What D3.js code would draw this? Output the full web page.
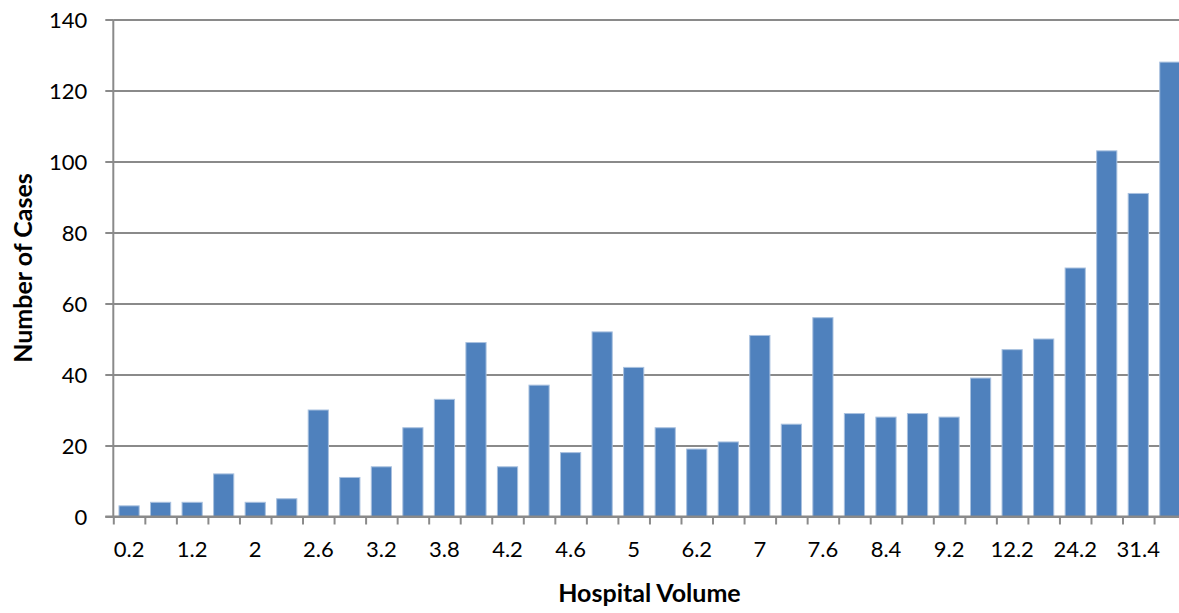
<!DOCTYPE html>
<html>
<head>
<meta charset="utf-8">
<script src="https://cdn.jsdelivr.net/npm/d3@7"></script>
<style>
  html, body { margin: 0; padding: 0; background: #fff; }
  svg { display: block; }
  .tick text { font-family: Lato, "Liberation Sans", sans-serif; fill: #000; }
</style>
</head>
<body>
<svg id="chart" width="1179" height="613"></svg>
<script>
// Number of cases per hospital-volume bin (34 bins; every other bin is labelled)
const volumeLabels = ["0.2", "1.2", "2", "2.6", "3.2", "3.8", "4.2", "4.6", "5",
                      "6.2", "7", "7.6", "8.4", "9.2", "12.2", "24.2", "31.4"];
const caseCounts = [3, 4, 4, 12, 4, 5, 30, 11, 14, 25, 33, 49, 14, 37, 18, 52, 42,
                    25, 19, 21, 51, 26, 56, 29, 28, 29, 28, 39, 47, 50, 70, 103, 91, 128];
const yTicks = [0, 20, 40, 60, 80, 100, 120, 140];

const svg = d3.select("#chart");
const plotLeft = 113.3, plotRight = 1185.6, plotTop = 19.5, plotBottom = 516.5;
const gridColor = "#8a8a8a";

const idx = d3.range(caseCounts.length);
const x = d3.scaleBand().domain(idx).range([plotLeft, plotRight]).paddingInner(0.36).paddingOuter(0.18);
const xEdge = d3.scaleLinear().domain([0, caseCounts.length]).range([plotLeft, plotRight]);
const y = d3.scaleLinear().domain([0, 140]).range([plotBottom, plotTop]);

// horizontal gridlines with short outside ticks
const yAxis = svg.append("g")
  .attr("transform", `translate(${plotLeft},0)`)
  .call(d3.axisLeft(y).tickValues(yTicks).tickSizeInner(8).tickSizeOuter(0).tickPadding(18));
yAxis.select(".domain").remove();
yAxis.selectAll(".tick line").attr("stroke", gridColor).attr("stroke-width", 2);
yAxis.selectAll(".tick").append("line")
  .attr("x1", 0).attr("x2", 1179 - plotLeft)
  .attr("stroke", gridColor).attr("stroke-width", 2);
yAxis.selectAll(".tick text").style("font-size", "22px").attr("dy", "0.36em");

// bars
svg.append("g").selectAll("rect")
  .data(caseCounts)
  .join("rect")
  .attr("x", (d, i) => x(i))
  .attr("width", x.bandwidth())
  .attr("y", d => y(d))
  .attr("height", d => y(0) - y(d))
  .attr("fill", "#4f81bd")
  .attr("stroke", "#a9c1df")
  .attr("stroke-width", 1);

// vertical axis line
svg.append("line")
  .attr("x1", plotLeft).attr("x2", plotLeft)
  .attr("y1", plotTop).attr("y2", plotBottom)
  .attr("stroke", gridColor).attr("stroke-width", 2);

// category tick marks between bins
const xTickAxis = svg.append("g")
  .attr("transform", `translate(0,${plotBottom})`)
  .call(d3.axisBottom(xEdge).tickValues(d3.range(0, caseCounts.length + 1)).tickSize(8).tickFormat(""));
xTickAxis.selectAll("line").attr("stroke", gridColor).attr("stroke-width", 2);
xTickAxis.select(".domain").remove();
svg.append("line")
  .attr("x1", plotLeft - 8).attr("x2", 1179)
  .attr("y1", plotBottom).attr("y2", plotBottom)
  .attr("stroke", gridColor).attr("stroke-width", 2);

// category labels on every other bin
const xLabelAxis = svg.append("g")
  .attr("transform", `translate(0,${plotBottom})`)
  .call(d3.axisBottom(x)
    .tickValues(idx.filter(i => i % 2 === 0))
    .tickFormat(i => volumeLabels[i / 2])
    .tickSize(0).tickPadding(25));
xLabelAxis.select(".domain").remove();
xLabelAxis.selectAll(".tick text").style("font-size", "22px");

// axis titles
svg.append("text")
  .attr("x", (plotLeft + plotRight) / 2).attr("y", 602)
  .attr("text-anchor", "middle")
  .style("font-family", "Lato, sans-serif").style("font-weight", "bold").style("font-size", "25px")
  .text("Hospital Volume");

svg.append("text")
  .attr("transform", `translate(32,${(plotTop + plotBottom) / 2}) rotate(-90)`)
  .attr("text-anchor", "middle")
  .style("font-family", "Lato, sans-serif").style("font-weight", "bold").style("font-size", "25px")
  .text("Number of Cases");
</script>
</body>
</html>
